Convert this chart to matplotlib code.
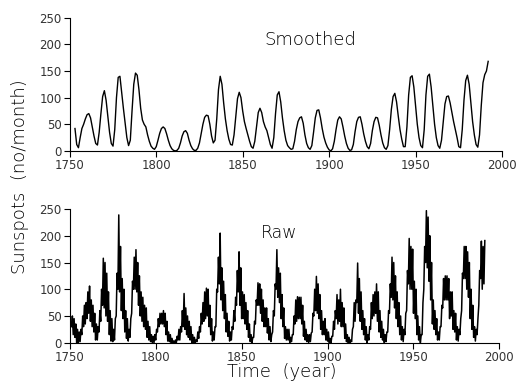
import numpy as np
import matplotlib
matplotlib.use("Agg")
import matplotlib.pyplot as plt

plt.rcParams['font.family'] = ['DejaVu Sans']
plt.rcParams['font.weight'] = 'light'

# smoothed sunspot number, one value per year from 1753
smooth_start = 1753
smooth_vals = [
	42, 12, 6, 25, 42, 50, 60, 68, 70, 62,          # 1753
	45, 28, 14, 11, 35, 70, 102, 113, 95, 65,       # 1763
	35, 14, 9, 40, 100, 138, 140, 110, 80, 52,      # 1773
	25, 10, 20, 75, 125, 146, 142, 115, 80, 58,     # 1783
	50, 45, 30, 18, 9, 5, 3, 8, 20, 33,             # 1793
	42, 45, 42, 32, 20, 10, 4, 1, 0, 1,             # 1803
	5, 15, 28, 36, 38, 33, 20, 10, 4, 1,            # 1813
	1, 5, 15, 32, 50, 63, 67, 66, 50, 28,           # 1823
	15, 20, 60, 115, 140, 125, 90, 60, 38, 22,      # 1833
	12, 11, 30, 65, 98, 110, 100, 75, 55, 42,       # 1843
	30, 18, 8, 5, 18, 45, 72, 80, 72, 55,           # 1853
	45, 38, 25, 12, 5, 25, 70, 105, 111, 92,        # 1863
	62, 38, 20, 10, 6, 3, 4, 18, 40, 55,            # 1873
	62, 64, 52, 30, 14, 6, 3, 10, 35, 62,           # 1883
	76, 77, 62, 42, 26, 15, 7, 2, 0, 4,             # 1893
	18, 40, 58, 64, 60, 45, 28, 14, 5, 1,           # 1903
	2, 12, 36, 55, 63, 64, 50, 32, 18, 8,           # 1913
	4, 14, 38, 55, 63, 62, 48, 30, 15, 6,           # 1923
	3, 10, 40, 78, 102, 108, 92, 65, 40, 22,        # 1933
	8, 8, 45, 105, 138, 141, 120, 85, 50, 25,       # 1943
	10, 6, 40, 105, 140, 144, 120, 85, 50, 25,      # 1953
	10, 5, 20, 55, 88, 102, 103, 90, 72, 55,        # 1963
	40, 25, 8, 6, 40, 95, 132, 142, 125, 90,        # 1973
	55, 30, 12, 7, 30, 85, 128, 143, 150, 168,      # 1983
]

# raw monthly numbers, read as lowest and highest value in each year from 1751
raw_start = 1751
raw_lo = [
	30, 15, 10, 0, 0, 2, 15, 30, 35, 45,
	55, 40, 30, 20, 5, 5, 20, 40, 70, 65,
	50, 40, 15, 3, 2, 5, 50, 100, 95, 60,
	45, 20, 8, 3, 10, 55, 100, 100, 95, 70,
	50, 40, 30, 25, 10, 5, 2, 0, 0, 5,
	20, 30, 35, 35, 30, 15, 3, 2, 0, 0,
	0, 0, 5, 5, 20, 30, 25, 15, 10, 5,
	0, 0, 0, 2, 8, 20, 35, 40, 45, 50,
	30, 15, 3, 5, 30, 95, 110, 80, 60, 45,
	20, 12, 3, 5, 25, 40, 70, 95, 70, 45,
	45, 35, 25, 10, 2, 0, 10, 35, 70, 70,
	55, 40, 30, 30, 18, 5, 2, 20, 50, 100,
	85, 75, 45, 30, 8, 5, 5, 0, 2, 15,
	35, 40, 45, 45, 35, 12, 5, 2, 0, 2,
	20, 50, 60, 55, 45, 25, 15, 15, 5, 3,
	0, 0, 12, 25, 45, 35, 40, 30, 30, 8,
	2, 0, 0, 2, 30, 40, 75, 55, 40, 25,
	15, 5, 0, 5, 25, 45, 50, 55, 40, 20,
	10, 5, 0, 2, 20, 55, 85, 80, 65, 45,
	30, 15, 5, 2, 15, 60, 110, 100, 100, 55,
	45, 15, 5, 0, 15, 100, 150, 140, 115, 80,
	35, 25, 15, 5, 5, 30, 65, 80, 80, 80,
	45, 50, 25, 20, 5, 3, 15, 60, 120, 120,
	100, 85, 45, 25, 10, 3, 15, 70, 120, 100,
	110,
]
raw_hi = [
	50, 45, 35, 25, 20, 25, 50, 70, 75, 95,
	106, 80, 70, 55, 35, 30, 60, 100, 158, 150,
	130, 95, 60, 45, 25, 45, 130, 239, 180, 120,
	100, 60, 45, 25, 45, 115, 160, 174, 150, 125,
	95, 85, 70, 65, 40, 30, 15, 12, 15, 25,
	45, 55, 55, 60, 55, 40, 20, 15, 8, 3,
	5, 12, 25, 30, 60, 92, 65, 50, 40, 30,
	15, 10, 5, 20, 30, 55, 75, 95, 102, 100,
	70, 45, 20, 30, 100, 160, 205, 140, 115, 90,
	55, 40, 20, 30, 60, 85, 135, 170, 140, 95,
	90, 75, 60, 35, 15, 10, 40, 80, 112, 110,
	100, 80, 65, 65, 45, 30, 15, 60, 110, 174,
	140, 130, 90, 65, 30, 25, 25, 10, 15, 50,
	80, 86, 85, 85, 70, 40, 25, 15, 15, 18,
	55, 100, 124, 110, 90, 60, 40, 45, 25, 20,
	8, 12, 40, 60, 90, 80, 100, 75, 65, 35,
	15, 10, 5, 25, 75, 80, 149, 120, 95, 60,
	45, 30, 15, 30, 75, 90, 95, 110, 95, 60,
	40, 25, 15, 20, 60, 110, 160, 150, 125, 95,
	75, 50, 30, 25, 55, 135, 195, 180, 175, 115,
	100, 50, 30, 15, 75, 180, 247, 235, 200, 150,
	80, 60, 45, 20, 30, 70, 120, 125, 125, 120,
	95, 95, 60, 55, 30, 25, 45, 130, 180, 180,
	170, 150, 100, 70, 30, 25, 45, 135, 190, 180,
	191,
]

xticks = [1750, 1800, 1850, 1900, 1950, 2000]
yticks = [0, 50, 100, 150, 200, 250]

smooth_years = smooth_start + np.arange(len(smooth_vals))
raw_years = raw_start + np.arange(len(raw_lo))
# low then high value inside each year, so the trace zigzags like monthly data
raw_x = np.ravel(np.column_stack((raw_years, raw_years + 0.5)))
raw_y = np.ravel(np.column_stack((raw_lo, raw_hi)))

fig = plt.figure(figsize=(5.17, 3.84), dpi=100)
ax1 = fig.add_axes([0.135, 0.607, 0.836, 0.347])
ax2 = fig.add_axes([0.135, 0.1076, 0.831, 0.348])

ax1.plot(smooth_years, smooth_vals, color='black', lw=1.0)
ax2.plot(raw_x, raw_y, color='black', lw=1.1)

for ax in (ax1, ax2):
	ax.set_xlim(1750, 2000)
	ax.set_ylim(0, 250)
	ax.set_xticks(xticks)
	ax.set_yticks(yticks)
	ax.spines['top'].set_visible(False)
	ax.spines['right'].set_visible(False)
	for s in ('left', 'bottom'):
		ax.spines[s].set_linewidth(0.8)
		ax.spines[s].set_color('black')
	ax.tick_params(direction='out', length=4, width=0.8, labelsize=8.5,
		colors='black', pad=2)
	for lab in ax.get_xticklabels() + ax.get_yticklabels():
		lab.set_fontweight('normal')
		lab.set_color('#333333')
	ax.patch.set_alpha(0)

ax1.text(1889, 208, 'Smoothed', fontsize=13, ha='center', va='center', color='black')
ax2.text(1872, 205, 'Raw', fontsize=12.5, ha='center', va='center', color='black')

fig.text(0.038, 0.54, 'Sunspots  (no/month)', rotation=90, fontsize=13,
	ha='center', va='center', color='black')
fig.text(0.545, 0.03, 'Time  (year)', fontsize=13, ha='center', va='center',
	color='black')

fig.savefig('out.png', dpi=100)
